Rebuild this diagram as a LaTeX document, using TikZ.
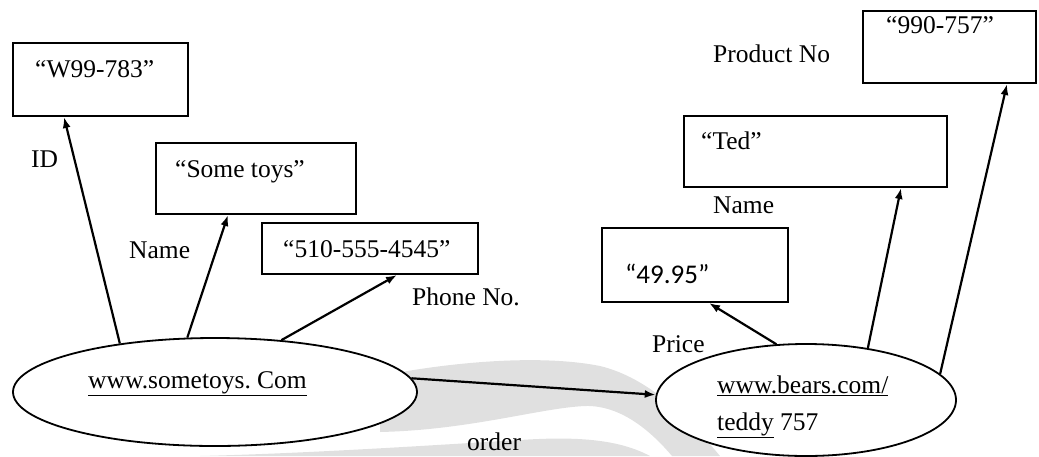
\documentclass[tikz,border=0pt]{standalone}
\usepackage{fontspec}
\setmainfont{Liberation Serif}
\newfontfamily\calib{Carlito}
\usetikzlibrary{shapes.geometric,arrows.meta,calc}
\begin{document}
\begin{tikzpicture}[x=1pt,y=-1pt,
  every node/.style={font=\fontsize{25.5}{28}\selectfont},
  valbox/.style={draw,line width=2pt,rectangle,inner sep=0pt},
  txt/.style={inner sep=0pt,anchor=base west},
  resource/.style={draw,line width=1.8pt,ellipse,fill=white,inner sep=0pt},
  link/.style={line width=2.2pt,-{Latex[length=11pt,width=8pt]}},
  swirl/.style={fill=black!12,draw=none}]
\useasboundingbox (0,0) rectangle (1039,456);
% faint background swirl
\fill[swirl] (380,376) .. controls (450,362) and (540,354) .. (600,366)
  .. controls (650,378) and (690,420) .. (720,456) -- (672,456)
  .. controls (650,430) and (620,405) .. (585,406)
  .. controls (540,408) and (470,430) .. (380,432) -- cycle;
\fill[swirl] (200,456) .. controls (320,453) and (450,444) .. (520,440)
  .. controls (580,436) and (620,440) .. (650,456) -- cycle;
% resources
\node[resource,minimum width=404pt,minimum height=108pt] (toys) at (215,392) {};
\node[resource,minimum width=300pt,minimum height=112pt] (bear) at (806,400) {};
\node[txt] (toysurl) at (88,388) {\underline{www.sometoys.\ Com}};
\node[txt] (bearurl) at (717,393) {\underline{www.bears.com/}};
\node[txt] (bearid) at (717,430) {\underline{teddy} 757};
% literal values
\node[valbox,minimum width=175pt,minimum height=73pt] (idbox) at (100.5,79.5) {};
\node[valbox,minimum width=200pt,minimum height=71pt] (namebox) at (256,178.5) {};
\node[valbox,minimum width=216pt,minimum height=51pt] (phonebox) at (370,248.5) {};
\node[valbox,minimum width=186pt,minimum height=74pt] (pricebox) at (695,265) {};
\node[valbox,minimum width=263pt,minimum height=71pt] (tedbox) at (815.5,151.5) {};
\node[valbox,minimum width=173pt,minimum height=72pt] (prodbox) at (949.5,47) {};
\node[txt] (idval) at (35,77) {“W99-783”};
\node[txt] (nameval) at (175,177) {“Some toys”};
\node[txt] (phoneval) at (283,257) {“510-555-4545”};
\node[txt,font=\calib\fontsize{27}{30}\selectfont] (priceval) at (625,283) {“49.95”};
\node[txt] (tedval) at (701,149) {“Ted”};
\node[txt] (prodval) at (886,33) {“990-757”};
% property labels
\node[txt] (idlab) at (31,167) {ID};
\node[txt] (namelab) at (129,258) {Name};
\node[txt] (phonelab) at (412,305) {Phone No.};
\node[txt] (pricelab) at (652,352) {Price};
\node[txt] (tedlab) at (713,213) {Name};
\node[txt] (prodlab) at (713,62) {Product No};
\node[txt] (orderlab) at (467,450) {order};
% properties
\draw[link] (toys.153.4) -- ($(idbox.south west)+(52,0)$);
\draw[link] (toys.117) -- ($(namebox.south west)+(73,0)$);
\draw[link] (toys.38.3) -- ($(phonebox.south west)+(136,0)$);
\draw[link] (toys.4.4) -- (bear.178.5);
\draw[link] (bear.118) -- ($(pricebox.south west)+(108,0)$);
\draw[link] (bear.40) -- ($(tedbox.south west)+(218,0)$);
\draw[link] (bear.11) -- ($(prodbox.south west)+(145,0)$);
\end{tikzpicture}
\end{document}
